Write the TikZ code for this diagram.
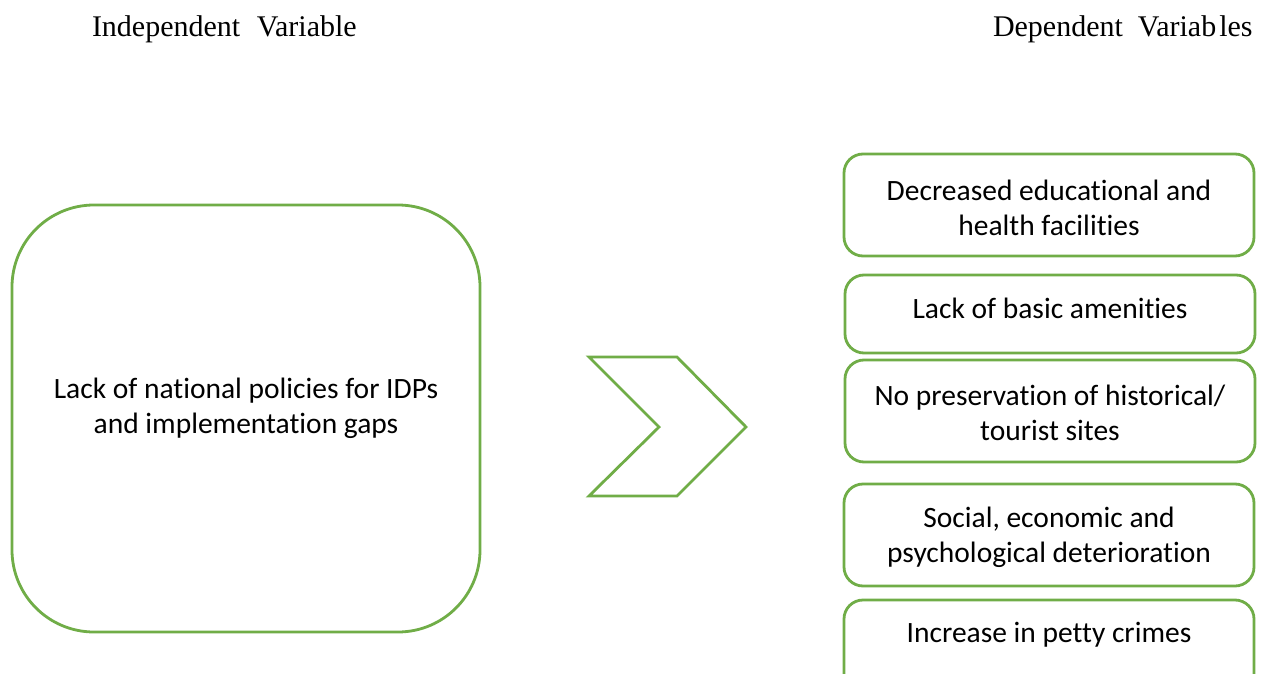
\documentclass[tikz,border=0pt]{standalone}
\usepackage{fontspec}
\setmainfont{Carlito}[Ligatures={NoCommon}]
\newfontfamily\headfont{Liberation Serif}
\begin{document}
\begin{tikzpicture}[x=1pt,y=-1pt,
  every node/.style={inner sep=0pt, outer sep=0pt},
  frame/.style={draw=boxgreen, line width=2.8pt, fill=white},
  effectbox/.style={frame, rounded corners=19pt, minimum width=410pt},
  bodytext/.style={align=center, font=\fontsize{29.5}{35}\selectfont},
  heading/.style={anchor=base west, font=\headfont\fontsize{30}{36}\selectfont}
]
\definecolor{boxgreen}{HTML}{70AD47}
\clip (0,0) rectangle (1271,674);
\fill[white] (0,0) rectangle (1271,674);

% column headings
\node[heading] (indep) at (92,37) {Independent\hspace{0.55em}Variable};
\node[heading] (dep) at (993,37) {Dependent\hspace{0.5em}Variab\hspace{0.1em}les};

% independent variable
\node[frame, rounded corners=82pt, minimum width=468pt, minimum height=427pt] (cause) at (246,418.5) {};
\node[bodytext] (causetext) at (246,408) {Lack of national policies for IDPs\\and implementation gaps};

% chevron between the columns
\draw[boxgreen, line width=2.8pt, line join=miter]
  (589,357) -- (677,357) -- (746,427) -- (677,496) -- (589,496) -- (659,427) -- cycle;

% dependent variables
\node[effectbox, minimum height=102pt] (e1) at (1049,205) {};
\node[bodytext] at (1049,208) {Decreased educational and\\health facilities};

\node[effectbox, minimum height=78pt] (e2) at (1050,314) {};
\node[bodytext] at (1050,308) {Lack of basic amenities};

\node[effectbox, minimum height=102pt] (e3) at (1050,411) {};
\node[bodytext] at (1050,413) {No preservation of historical/\\tourist sites};

\node[effectbox, minimum height=102pt] (e4) at (1049,535) {};
\node[bodytext] at (1049,537) {Social, economic and\\psychological deterioration};

\node[effectbox, minimum height=102pt] (e5) at (1049,651) {};
\node[bodytext] at (1049,635) {Increase in petty crimes};
\end{tikzpicture}
\end{document}
